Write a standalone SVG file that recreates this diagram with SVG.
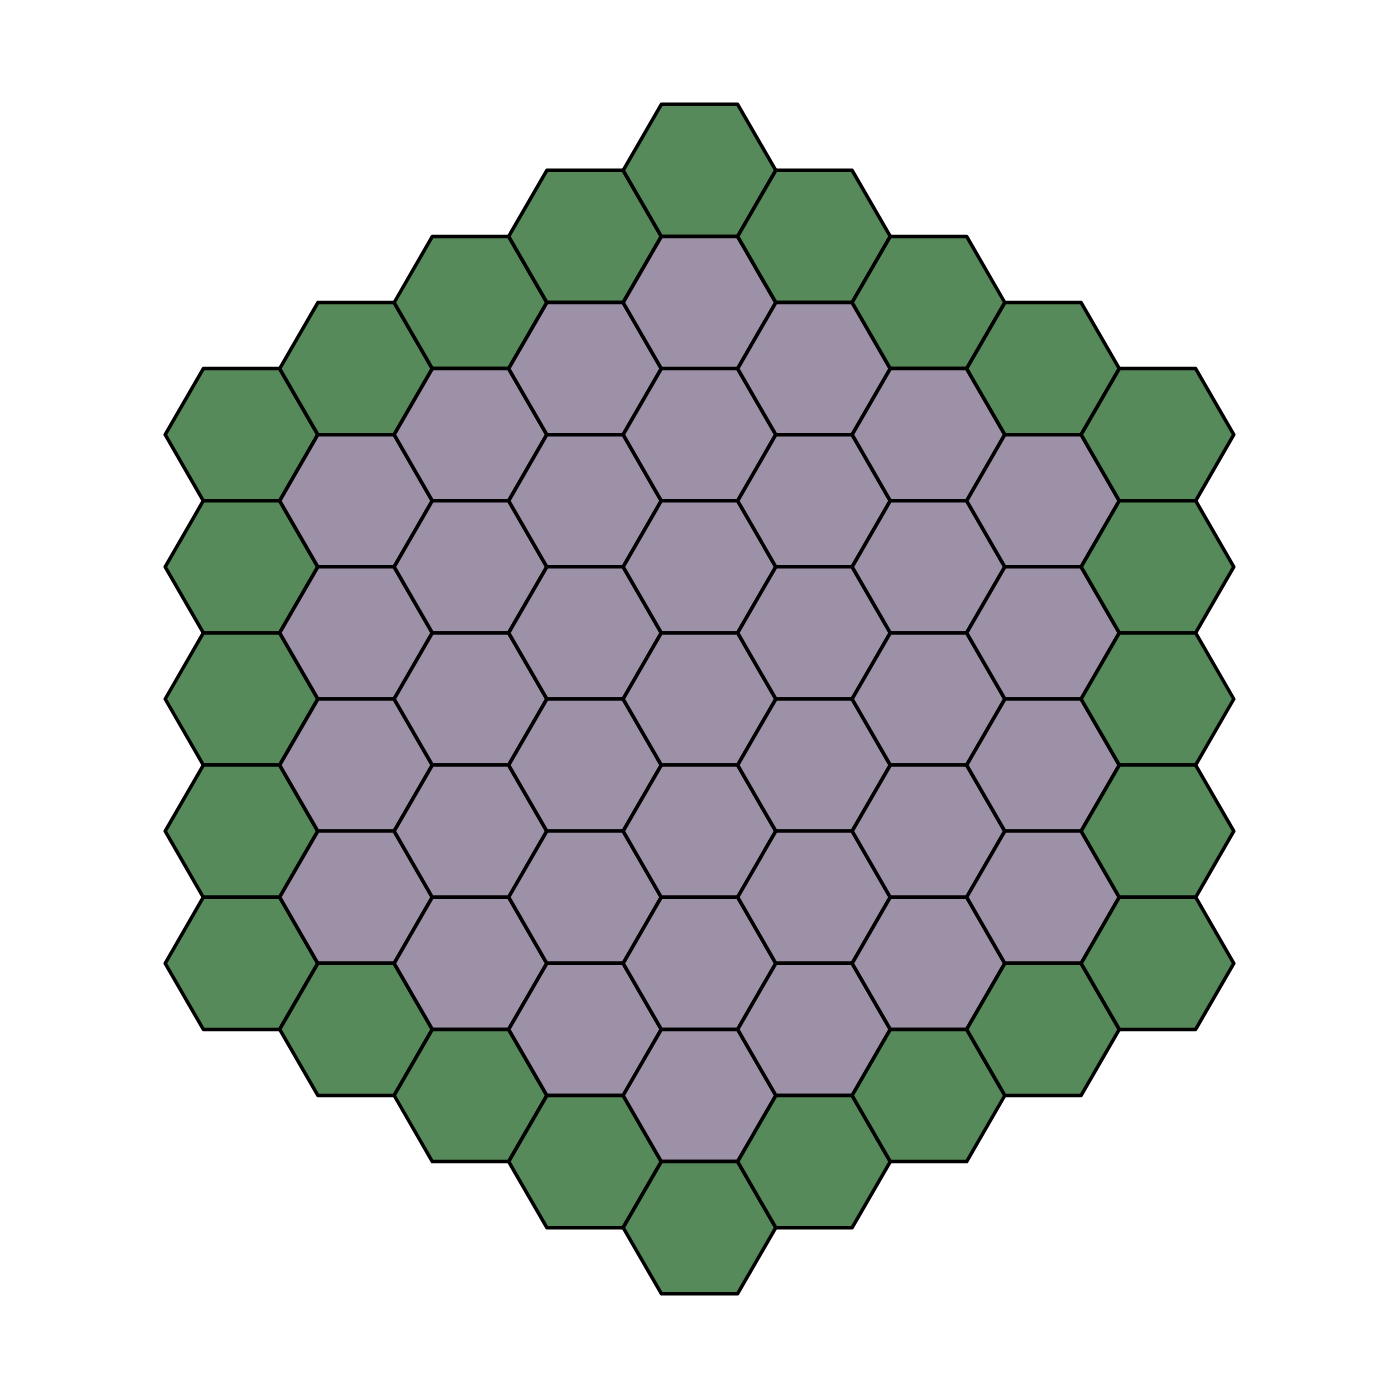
<svg xmlns="http://www.w3.org/2000/svg" xmlns:xlink="http://www.w3.org/1999/xlink" width="1400" height="1400" viewBox="0 0 1400 1400">
<style>
.g{fill:#578A5A}
.p{fill:#9D91A8}
#hex{stroke:#000;stroke-width:3.5;stroke-linejoin:round}
</style>
<defs>
<polygon id="hex" points="76.3,0 38.15,66.08 -38.15,66.08 -76.3,0 -38.15,-66.08 38.15,-66.08"/>
</defs>
<rect width="1400" height="1400" fill="#fff"/>
<g id="connectors"/>
<g id="nodes">
<g id="c-4"><use href="#hex" class="g" x="241.5" y="434.7"/><use href="#hex" class="g" x="241.5" y="566.8"/><use href="#hex" class="g" x="241.5" y="699"/><use href="#hex" class="g" x="241.5" y="831.2"/><use href="#hex" class="g" x="241.5" y="963.3"/></g>
<g id="c-3"><use href="#hex" class="g" x="356" y="368.6"/><use href="#hex" class="p" x="356" y="500.8"/><use href="#hex" class="p" x="356" y="632.9"/><use href="#hex" class="p" x="356" y="765.1"/><use href="#hex" class="p" x="356" y="897.2"/><use href="#hex" class="g" x="356" y="1029.4"/></g>
<g id="c-2"><use href="#hex" class="g" x="470.5" y="302.5"/><use href="#hex" class="p" x="470.5" y="434.7"/><use href="#hex" class="p" x="470.5" y="566.8"/><use href="#hex" class="p" x="470.5" y="699"/><use href="#hex" class="p" x="470.5" y="831.2"/><use href="#hex" class="p" x="470.5" y="963.3"/><use href="#hex" class="g" x="470.5" y="1095.5"/></g>
<g id="c-1"><use href="#hex" class="g" x="585" y="236.4"/><use href="#hex" class="p" x="585" y="368.6"/><use href="#hex" class="p" x="585" y="500.8"/><use href="#hex" class="p" x="585" y="632.9"/><use href="#hex" class="p" x="585" y="765.1"/><use href="#hex" class="p" x="585" y="897.2"/><use href="#hex" class="p" x="585" y="1029.4"/><use href="#hex" class="g" x="585" y="1161.6"/></g>
<g id="c0"><use href="#hex" class="g" x="699.5" y="170.4"/><use href="#hex" class="p" x="699.5" y="302.6"/><use href="#hex" class="p" x="699.5" y="434.7"/><use href="#hex" class="p" x="699.5" y="566.8"/><use href="#hex" class="p" x="699.5" y="699"/><use href="#hex" class="p" x="699.5" y="831.2"/><use href="#hex" class="p" x="699.5" y="963.3"/><use href="#hex" class="p" x="699.5" y="1095.5"/><use href="#hex" class="g" x="699.5" y="1227.6"/></g>
<g id="c1"><use href="#hex" class="g" x="814" y="236.4"/><use href="#hex" class="p" x="814" y="368.6"/><use href="#hex" class="p" x="814" y="500.8"/><use href="#hex" class="p" x="814" y="632.9"/><use href="#hex" class="p" x="814" y="765.1"/><use href="#hex" class="p" x="814" y="897.2"/><use href="#hex" class="p" x="814" y="1029.4"/><use href="#hex" class="g" x="814" y="1161.6"/></g>
<g id="c2"><use href="#hex" class="g" x="928.5" y="302.5"/><use href="#hex" class="p" x="928.5" y="434.7"/><use href="#hex" class="p" x="928.5" y="566.8"/><use href="#hex" class="p" x="928.5" y="699"/><use href="#hex" class="p" x="928.5" y="831.2"/><use href="#hex" class="p" x="928.5" y="963.3"/><use href="#hex" class="g" x="928.5" y="1095.5"/></g>
<g id="c3"><use href="#hex" class="g" x="1043" y="368.6"/><use href="#hex" class="p" x="1043" y="500.8"/><use href="#hex" class="p" x="1043" y="632.9"/><use href="#hex" class="p" x="1043" y="765.1"/><use href="#hex" class="p" x="1043" y="897.2"/><use href="#hex" class="g" x="1043" y="1029.4"/></g>
<g id="c4"><use href="#hex" class="g" x="1157.5" y="434.7"/><use href="#hex" class="g" x="1157.5" y="566.8"/><use href="#hex" class="g" x="1157.5" y="699"/><use href="#hex" class="g" x="1157.5" y="831.2"/><use href="#hex" class="g" x="1157.5" y="963.3"/></g>
</g>
</svg>
